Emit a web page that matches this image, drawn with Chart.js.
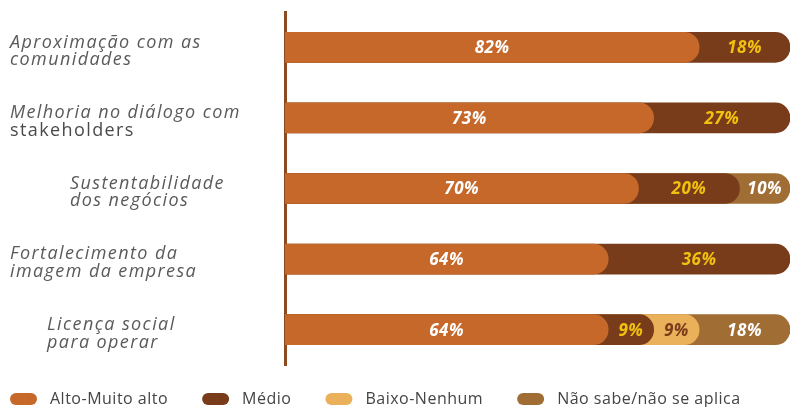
<!DOCTYPE html>
<html lang="pt">
<head>
  <meta charset="UTF-8">
  <title>Benefícios percebidos</title>
  <script src="https://cdn.jsdelivr.net/npm/chart.js"></script>
  <style>
    html, body { margin: 0; padding: 0; background: #fff; }
    #wrap { width: 791px; height: 407px; }
  </style>
</head>
<body>
  <div id="wrap"><canvas id="myChart"></canvas></div>

  <script>
    // Categories (one array of lines per row)
    const categories = [
      ['Aproximação com as', 'comunidades'],
      ['Melhoria no diálogo com', 'stakeholders'],
      ['Sustentabilidade', 'dos negócios'],
      ['Fortalecimento da', 'imagem da empresa'],
      ['Licença social', 'para operar']
    ];
    const seriesNames = ['Alto-Muito alto', 'Médio', 'Baixo-Nenhum', 'Não sabe/não se aplica'];

    // Values in %
    const altoMuitoAlto = [82, 73, 70, 64, 64];
    const medio         = [18, 27, 20, 36, 9];
    const baixoNenhum   = [0, 0, 0, 0, 9];
    const naoSabe       = [0, 0, 10, 0, 18];

    const series = [altoMuitoAlto, medio, baixoNenhum, naoSabe];
    const colors = ['#c5682a', '#783c1a', '#eab05a', '#a06e35'];
    const valueColors = ['#ffffff', '#f2c00f', '#7a3d1c', '#ffffff'];

    // label layout tweaks
    const labelIndent = [0, 0, 60, 0, 37];
    const uprightLines = [[], [1], [], [], []];
    const fontFamily = '"Open Sans", "Noto Sans", sans-serif';

    // running totals so each segment overlaps the previous one (rounded ends)
    const cumulative = series.map((_, k) =>
      categories.map((_, i) => series.slice(0, k + 1).reduce((s, arr) => s + arr[i], 0)));

    const datasets = seriesNames.map((name, k) => ({
      label: name,
      data: series[k].map((v, i) => v > 0 ? [0, cumulative[k][i]] : null),
      backgroundColor: colors[k],
      borderRadius: 15,
      borderSkipped: 'start',
      barThickness: 30,
      grouped: false
    }));

    const yLabelsPlugin = {
      id: 'yLabels',
      afterDraw(chart) {
        const { ctx, scales: { y } } = chart;
        ctx.save();
        ctx.textBaseline = 'middle';
        ctx.textAlign = 'left';
        ctx.letterSpacing = '1.4px';
        categories.forEach((lines, i) => {
          const cy = y.getPixelForValue(i) + 4;
          lines.forEach((line, j) => {
            const upright = uprightLines[i].includes(j);
            ctx.font = (upright ? '' : 'italic ') + '18px ' + fontFamily;
            ctx.fillStyle = upright ? '#4a4a4a' : '#5a5a5a';
            ctx.fillText(line, 10 + labelIndent[i], cy + (j - (lines.length - 1) / 2) * 17.5);
          });
        });
        ctx.restore();
      }
    };

    const valueLabelsPlugin = {
      id: 'valueLabels',
      afterDatasetsDraw(chart) {
        const { ctx, scales: { x, y } } = chart;
        ctx.save();
        ctx.font = 'italic bold 17px ' + fontFamily;
        ctx.letterSpacing = '0.5px';
        ctx.textAlign = 'center';
        ctx.textBaseline = 'middle';
        series.forEach((arr, k) => {
          arr.forEach((v, i) => {
            if (!v) return;
            const end = cumulative[k][i];
            const start = end - v;
            ctx.fillStyle = valueColors[k];
            ctx.fillText(v + '%', x.getPixelForValue((start + end) / 2), y.getPixelForValue(i) + 1);
          });
        });
        ctx.restore();
      }
    };

    const legendPlugin = {
      id: 'bottomLegend',
      afterDraw(chart) {
        const { ctx } = chart;
        const cy = 399;
        let lx = 10;
        ctx.save();
        ctx.font = '16px ' + fontFamily;
        ctx.letterSpacing = '0.5px';
        ctx.textBaseline = 'middle';
        ctx.textAlign = 'left';
        chart.data.datasets.forEach(ds => {
          ctx.fillStyle = ds.backgroundColor;
          ctx.beginPath();
          ctx.roundRect(lx, cy - 6, 27, 12, 6);
          ctx.fill();
          ctx.fillStyle = '#444';
          ctx.fillText(ds.label, lx + 40, cy);
          lx += 40 + ctx.measureText(ds.label).width + 34;
        });
        ctx.restore();
      }
    };

    const ctx = document.getElementById('myChart').getContext('2d');
    new Chart(ctx, {
      type: 'bar',
      data: { labels: categories, datasets: datasets },
      options: {
        indexAxis: 'y',
        responsive: true,
        maintainAspectRatio: false,
        animation: false,
        layout: { padding: { top: 12, bottom: 42, right: 1, left: 0 } },
        scales: {
          x: { min: 0, max: 100, display: false },
          y: {
            z: 1,
            grid: { display: false, drawTicks: false },
            border: { display: true, color: '#8b4a1f', width: 3 },
            ticks: { display: false },
            afterFit(scale) { scale.width = 285; }
          }
        },
        plugins: {
          legend: { display: false },
          tooltip: { enabled: false }
        }
      },
      plugins: [yLabelsPlugin, valueLabelsPlugin, legendPlugin]
    });
  </script>
</body>
</html>
